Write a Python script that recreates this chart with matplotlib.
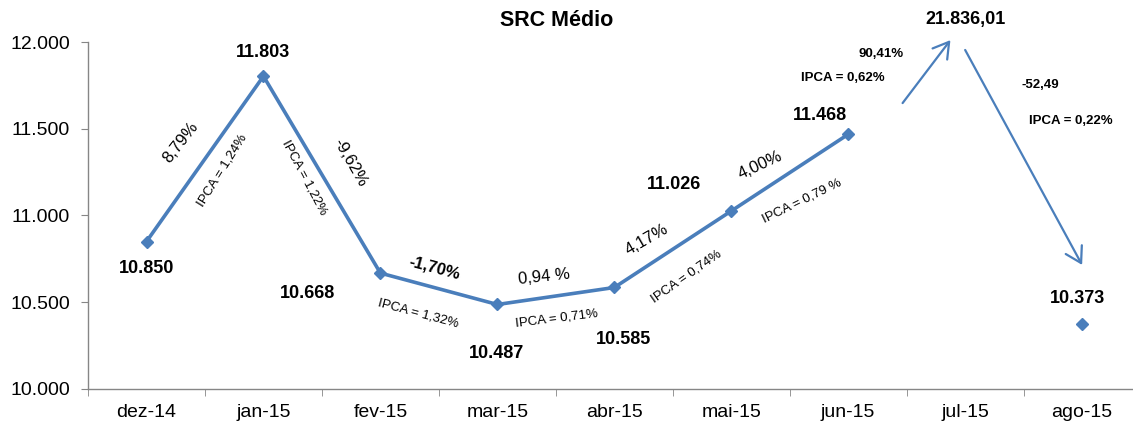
import numpy as np
import matplotlib
matplotlib.use("Agg")
import matplotlib.pyplot as plt
from matplotlib.ticker import FuncFormatter, FixedLocator

plt.rcParams['font.family'] = ['Liberation Sans', 'DejaVu Sans']

months = ["dez-14", "jan-15", "fev-15", "mar-15", "abr-15", "mai-15", "jun-15", "jul-15", "ago-15"]
src_medio = [10850, 11803, 10668, 10487, 10585, 11026, 11468, np.nan, 10373]
jul_value = 21836.01

var_labels = ["8,79%", "-9,62%", "-1,70%", "0,94 %", "4,17%", "4,00%"]
ipca_labels = ["IPCA = 1,24%", "IPCA = 1,22%", "IPCA = 1,32%", "IPCA = 0,71%",
               "IPCA = 0,74%", "IPCA = 0,79 %"]
jul_var, jul_ipca = "90,41%", "IPCA = 0,62%"
ago_var, ago_ipca = "-52,49", "IPCA = 0,22%"

blue = "#4A7EBB"
gray = "#868686"


def br_int(v):
    return f"{v:,.0f}".replace(",", ".")


def br_dec(v):
    s = f"{v:,.2f}"
    return s.replace(",", "X").replace(".", ",").replace("X", ".")


fig = plt.figure(figsize=(11.33, 4.23), dpi=100)
ax = fig.add_axes([0.0777, 0.0804, 0.929, 0.8203])

x = np.arange(len(months))
ax.plot(x, src_medio, color=blue, lw=2.6, marker="D", ms=6.5,
        markerfacecolor=blue, markeredgecolor=blue, zorder=3)

ax.set_xlim(-0.5, len(months) - 0.5)
ax.set_ylim(10000, 12000)
ax.set_yticks(np.arange(10000, 12001, 500))
ax.yaxis.set_major_formatter(FuncFormatter(lambda v, p: br_int(v)))
ax.set_xticks(x)
ax.set_xticklabels(months)
ax.xaxis.set_minor_locator(FixedLocator(np.arange(-0.5, len(months), 1.0)))
ax.tick_params(axis="x", which="major", length=0, labelsize=14, pad=11)
ax.tick_params(axis="x", which="minor", length=5, color=gray, direction="out")
ax.tick_params(axis="y", length=5, color=gray, labelsize=14, pad=8)
for s in ("top", "right"):
    ax.spines[s].set_visible(False)
for s in ("left", "bottom"):
    ax.spines[s].set_color(gray)
    ax.spines[s].set_linewidth(1.0)

fig.text(0.491, 0.952, "SRC Médio", ha="center", va="center",
         fontsize=15.5, fontweight="bold")

# value labels
value_pos = [(0.0, 10697), (1.0, 11937), (1.38, 10553), (2.99, 10202),
             (4.08, 10288), (4.51, 11176), (5.76, 11579), None, (7.96, 10519)]
for v, pos in zip(src_medio, value_pos):
    if pos is None or np.isnan(v):
        continue
    ax.text(pos[0], pos[1], br_int(v), ha="center", va="center",
            fontsize=13, fontweight="bold", clip_on=False)
ax.text(7.0, 12127, br_dec(jul_value), ha="center", va="center",
        fontsize=13, fontweight="bold", clip_on=False)

# monthly variation labels
var_pos = [(0.29, 11424, 52), (1.74, 11303, -60), (2.46, 10697, -15),
           (3.40, 10646, 6), (4.28, 10859, 30), (5.25, 11291, 25)]
var_weight = ["normal", "normal", "semibold", "normal", "normal", "normal"]
for t, (px, py, r), w in zip(var_labels, var_pos, var_weight):
    ax.text(px, py, t, ha="center", va="center", fontsize=12,
            rotation=r, rotation_mode="anchor", fontweight=w)

ipca_pos = [(0.65, 11262, 58), (1.35, 11216, -62), (2.32, 10438, -15),
            (3.51, 10409, 7), (4.62, 10651, 35), (5.60, 11084, 26)]
for t, (px, py, r) in zip(ipca_labels, ipca_pos):
    ax.text(px, py, t, ha="center", va="center", fontsize=9.5,
            rotation=r, rotation_mode="anchor")

for t, (px, py) in zip([jul_var, jul_ipca, ago_var, ago_ipca],
                       [(6.28, 11931), (5.95, 11793), (7.64, 11752), (7.90, 11545)]):
    ax.text(px, py, t, ha="center", va="center", fontsize=9.5,
            fontweight="bold", clip_on=False)

# arrows towards and from the July value
arrow_kw = dict(arrowstyle="->,head_length=0.5,head_width=0.3", color=blue,
                lw=1.6, mutation_scale=22, shrinkA=0, shrinkB=0)
ax.annotate("", xy=(6.874, 12011), xytext=(6.465, 11648),
            arrowprops=arrow_kw, annotation_clip=False)
ax.annotate("", xy=(8.0, 10715), xytext=(7.0, 11954),
            arrowprops=arrow_kw, annotation_clip=False)

fig.savefig("out.png", dpi=100)
